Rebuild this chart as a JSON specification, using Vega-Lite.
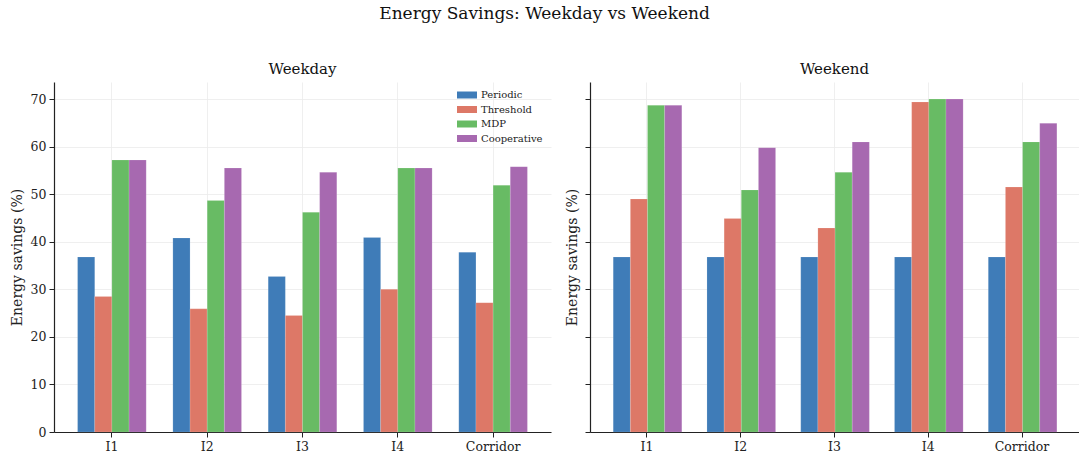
{
  "$schema": "https://vega.github.io/schema/vega-lite/v6.json",
  "background": "white",
  "padding": {"left": 10, "top": 5, "right": 0, "bottom": 5},
  "title": {"text": "Energy Savings: Weekday vs Weekend", "anchor": "middle", "font": "DejaVu Serif", "fontSize": 17, "fontWeight": "normal", "color": "#111111", "offset": 39},
  "config": {
    "font": "DejaVu Serif",
    "view": {"stroke": null},
    "axis": {
      "labelFont": "DejaVu Serif", "titleFont": "DejaVu Serif",
      "labelFontSize": 12.5, "titleFontSize": 14, "titleFontWeight": "normal",
      "labelColor": "#222222", "titleColor": "#222222",
      "domainColor": "#222222", "domainWidth": 1.2,
      "tickColor": "#222222", "tickSize": 5, "tickWidth": 1,
      "gridColor": "#ebebeb", "gridWidth": 0.8,
      "labelPadding": 3
    },
    "title": {"font": "DejaVu Serif", "fontWeight": "normal", "color": "#111111"}
  },
  "data": {"values": [
    {"day": "Weekday", "location": "I1", "method": "Periodic", "savings": 36.8},
    {"day": "Weekday", "location": "I1", "method": "Threshold", "savings": 28.5},
    {"day": "Weekday", "location": "I1", "method": "MDP", "savings": 57.2},
    {"day": "Weekday", "location": "I1", "method": "Cooperative", "savings": 57.2},
    {"day": "Weekday", "location": "I2", "method": "Periodic", "savings": 40.8},
    {"day": "Weekday", "location": "I2", "method": "Threshold", "savings": 25.9},
    {"day": "Weekday", "location": "I2", "method": "MDP", "savings": 48.7},
    {"day": "Weekday", "location": "I2", "method": "Cooperative", "savings": 55.5},
    {"day": "Weekday", "location": "I3", "method": "Periodic", "savings": 32.7},
    {"day": "Weekday", "location": "I3", "method": "Threshold", "savings": 24.5},
    {"day": "Weekday", "location": "I3", "method": "MDP", "savings": 46.2},
    {"day": "Weekday", "location": "I3", "method": "Cooperative", "savings": 54.6},
    {"day": "Weekday", "location": "I4", "method": "Periodic", "savings": 40.9},
    {"day": "Weekday", "location": "I4", "method": "Threshold", "savings": 30.0},
    {"day": "Weekday", "location": "I4", "method": "MDP", "savings": 55.5},
    {"day": "Weekday", "location": "I4", "method": "Cooperative", "savings": 55.5},
    {"day": "Weekday", "location": "Corridor", "method": "Periodic", "savings": 37.8},
    {"day": "Weekday", "location": "Corridor", "method": "Threshold", "savings": 27.2},
    {"day": "Weekday", "location": "Corridor", "method": "MDP", "savings": 51.9},
    {"day": "Weekday", "location": "Corridor", "method": "Cooperative", "savings": 55.8},
    {"day": "Weekend", "location": "I1", "method": "Periodic", "savings": 36.8},
    {"day": "Weekend", "location": "I1", "method": "Threshold", "savings": 49.0},
    {"day": "Weekend", "location": "I1", "method": "MDP", "savings": 68.7},
    {"day": "Weekend", "location": "I1", "method": "Cooperative", "savings": 68.7},
    {"day": "Weekend", "location": "I2", "method": "Periodic", "savings": 36.8},
    {"day": "Weekend", "location": "I2", "method": "Threshold", "savings": 44.9},
    {"day": "Weekend", "location": "I2", "method": "MDP", "savings": 50.9},
    {"day": "Weekend", "location": "I2", "method": "Cooperative", "savings": 59.8},
    {"day": "Weekend", "location": "I3", "method": "Periodic", "savings": 36.8},
    {"day": "Weekend", "location": "I3", "method": "Threshold", "savings": 42.9},
    {"day": "Weekend", "location": "I3", "method": "MDP", "savings": 54.6},
    {"day": "Weekend", "location": "I3", "method": "Cooperative", "savings": 61.0},
    {"day": "Weekend", "location": "I4", "method": "Periodic", "savings": 36.8},
    {"day": "Weekend", "location": "I4", "method": "Threshold", "savings": 69.4},
    {"day": "Weekend", "location": "I4", "method": "MDP", "savings": 70.0},
    {"day": "Weekend", "location": "I4", "method": "Cooperative", "savings": 70.0},
    {"day": "Weekend", "location": "Corridor", "method": "Periodic", "savings": 36.8},
    {"day": "Weekend", "location": "Corridor", "method": "Threshold", "savings": 51.5},
    {"day": "Weekend", "location": "Corridor", "method": "MDP", "savings": 61.0},
    {"day": "Weekend", "location": "Corridor", "method": "Cooperative", "savings": 64.9}
  ]},
  "spacing": 14,
  "resolve": {"legend": {"color": "independent"}},
  "hconcat": [
    {
      "width": 497, "height": 350,
      "title": {"text": "Weekday", "fontSize": 15, "fontWeight": "normal", "offset": 5},
      "transform": [{"filter": "datum.day === 'Weekday'"}],
      "mark": {"type": "bar", "stroke": "white", "strokeWidth": 0.4, "strokeOpacity": 0.35},
      "encoding": {
        "x": {"field": "location", "type": "nominal", "sort": ["I1", "I2", "I3", "I4", "Corridor"],
              "scale": {"paddingInner": 0.28, "paddingOuter": 0.2475},
              "axis": {"title": null, "labelAngle": 0, "grid": true, "bandPosition": 0.5}},
        "xOffset": {"field": "method", "type": "nominal", "sort": ["Periodic", "Threshold", "MDP", "Cooperative"],
                    "scale": {"paddingInner": 0, "paddingOuter": 0}},
        "y": {"field": "savings", "type": "quantitative",
              "scale": {"domain": [0, 73.6], "nice": false},
              "axis": {"title": "Energy savings (%)", "values": [0, 10, 20, 30, 40, 50, 60, 70], "grid": true, "titlePadding": 6}},
        "color": {"field": "method", "type": "nominal", "sort": ["Periodic", "Threshold", "MDP", "Cooperative"],
                  "scale": {"domain": ["Periodic", "Threshold", "MDP", "Cooperative"], "range": ["#3f7cb8", "#dd7867", "#68bb64", "#a769b0"]},
                  "legend": {"title": null, "orient": "top-right", "offset": 6,
                             "symbolType": "M-2,-0.7H2V0.7H-2Z", "symbolSize": 100, "symbolStrokeWidth": 0,
                             "labelFont": "DejaVu Serif", "labelFontSize": 10, "labelColor": "#222222",
                             "rowPadding": 4.5, "labelOffset": 9, "padding": 2}}
      }
    },
    {
      "width": 489, "height": 350,
      "title": {"text": "Weekend", "fontSize": 15, "fontWeight": "normal", "offset": 5},
      "transform": [{"filter": "datum.day === 'Weekend'"}],
      "mark": {"type": "bar", "stroke": "white", "strokeWidth": 0.4, "strokeOpacity": 0.35},
      "encoding": {
        "x": {"field": "location", "type": "nominal", "sort": ["I1", "I2", "I3", "I4", "Corridor"],
              "scale": {"paddingInner": 0.28, "paddingOuter": 0.2475},
              "axis": {"title": null, "labelAngle": 0, "grid": true, "bandPosition": 0.5}},
        "xOffset": {"field": "method", "type": "nominal", "sort": ["Periodic", "Threshold", "MDP", "Cooperative"],
                    "scale": {"paddingInner": 0, "paddingOuter": 0}},
        "y": {"field": "savings", "type": "quantitative",
              "scale": {"domain": [0, 73.6], "nice": false},
              "axis": {"title": "Energy savings (%)", "values": [0, 10, 20, 30, 40, 50, 60, 70], "grid": true, "labels": false, "titlePadding": 5}},
        "color": {"field": "method", "type": "nominal", "sort": ["Periodic", "Threshold", "MDP", "Cooperative"],
                  "scale": {"domain": ["Periodic", "Threshold", "MDP", "Cooperative"], "range": ["#3f7cb8", "#dd7867", "#68bb64", "#a769b0"]},
                  "legend": null}
      }
    }
  ]
}
